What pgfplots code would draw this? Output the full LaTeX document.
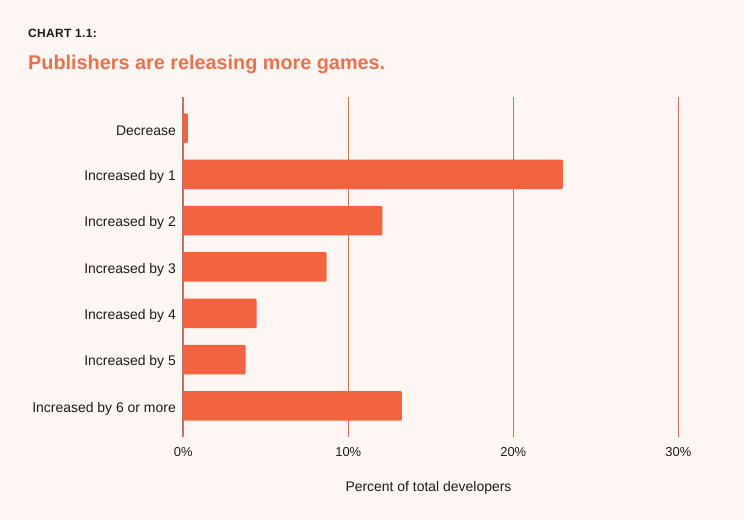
\documentclass[border=0pt]{standalone}
\usepackage{fontspec}
\setmainfont{Liberation Sans}
\usepackage{pgfplots}
\pgfplotsset{compat=1.18}
\definecolor{bg}{HTML}{FDF6F3}
\definecolor{bar}{HTML}{F1643F}
\definecolor{ttl}{HTML}{EA714C}
\definecolor{grd}{HTML}{CD6F5E}
\definecolor{txt}{HTML}{1C1C1C}
\begin{document}
\begin{tikzpicture}[x=1bp,y=1bp]
\fill[bg] (0,0) rectangle (744,520);
\node[anchor=base west, inner sep=0, text=txt] at (28,482)
  {\fontsize{12}{14}\selectfont\bfseries\addfontfeature{LetterSpace=3}CHART 1.1:};
\node[anchor=base west, inner sep=0, text=ttl] at (28,450)
  {\fontsize{19.9}{24}\selectfont\bfseries Publishers are releasing more games.};
\node[anchor=base, inner sep=0, text=txt] at (428.5,28)
  {\fontsize{14}{16}\selectfont Percent of total developers};
\begin{axis}[
  at={(183.3bp,83bp)}, anchor=south west,
  scale only axis, width=495bp, height=340bp,
  xbar, bar width=29.5bp,
  xmin=0, xmax=30, ymin=-0.67, ymax=6.67,
  y dir=reverse,
  axis line style={draw=none},
  major tick length=0pt,
  xtick={0,10,20,30},
  xmajorgrids, grid style={grd, line width=1bp},
  extra x ticks={0}, extra x tick labels={},
  extra x tick style={grid style={grd, line width=2.2bp}},
  ytick={0,1,2,3,4,5,6},
  yticklabels={Decrease,Increased by 1,Increased by 2,Increased by 3,Increased by 4,Increased by 5,Increased by 6 or more},
  /pgf/number format/assume math mode=true,
  xticklabel={\pgfmathprintnumber{\tick}\%},
  xticklabel style={font=\fontsize{13}{15}\selectfont, text=txt, anchor=base, yshift=-20bp},
  yticklabel style={font=\fontsize{14}{16}\selectfont, text=txt, xshift=-4bp, yshift=-2.5bp},
]
\addplot[fill=bar, draw=none, rounded corners=1.2bp] coordinates {
 (0.27,0) (23.0,1) (12.06,2) (8.69,3) (4.45,4) (3.78,5) (13.25,6)
};
\end{axis}
\end{tikzpicture}
\end{document}
